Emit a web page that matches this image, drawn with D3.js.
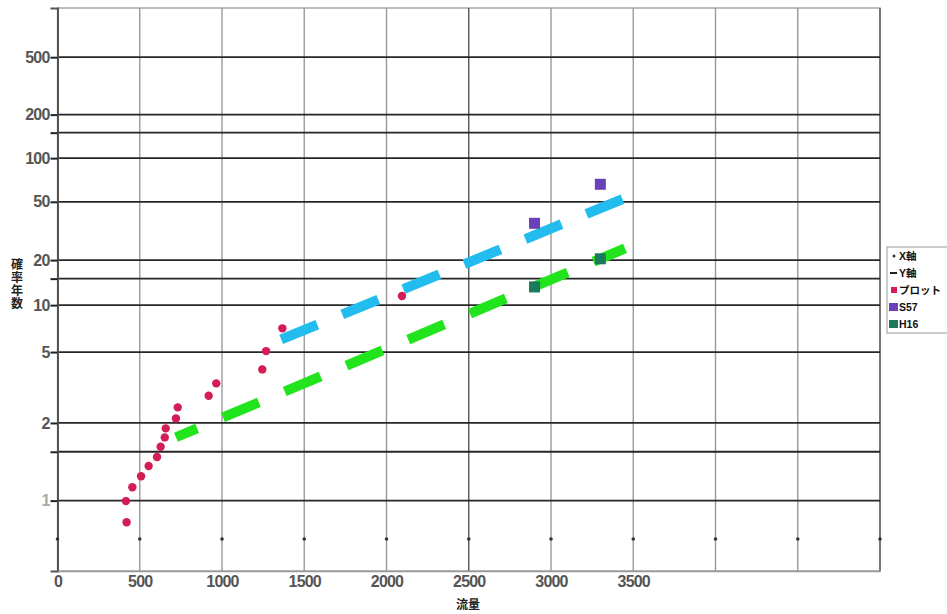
<!DOCTYPE html>
<html>
<head>
<meta charset="utf-8">
<script src="https://cdn.jsdelivr.net/npm/d3@7"></script>
<style>
  body { margin: 0; background: #fff; }
  svg { display: block; }
  text { font-family: "Liberation Sans", "Noto Sans CJK JP", sans-serif; }
</style>
</head>
<body>
<svg id="chart" width="947" height="614"></svg>
<script>
// data: flow (x) vs return period in years (y, Gumbel paper)
var plotFlow = [420, 416, 455, 508, 554, 605, 627, 652, 658, 720, 731, 919, 965, 1245, 1268, 1367, 2094];
var plotT    = [1.035, 1.098, 1.168, 1.245, 1.336, 1.434, 1.569, 1.717, 1.885, 2.105, 2.396, 2.764, 3.248, 3.92, 5.07, 7.06, 11.5];

var s57Flow = [2900, 3300];
var s57T    = [35.6, 66];
var h16Flow = [2900, 3300];
var h16T    = [13.2, 20.4];

// fitted lines, end points [flow, T]
var cyanLine  = [[1360, 6.0], [3450, 53]];
var greenLine = [[720, 1.72], [3450, 24]];

// "Y軸" series (horizontal lines) and their labels
var yLineT     = [500, 200, 150, 100, 50, 20, 15, 10, 5, 2, 1.5, 1.1];
var yLineLabel = ["500", "200", "", "100", "50", "20", "", "10", "5", "2", "", "1"];

// "X軸" series (small dots on the vertical grid)
var xDotFlow = [0, 500, 1000, 1500, 2000, 2500, 3000, 3500, 4000, 4500, 5000];
var xDotT = 1.012;

var xTicks = [0, 500, 1000, 1500, 2000, 2500, 3000, 3500];
var xGrid  = [500, 1000, 1500, 2000, 2500, 3000, 3500, 4000, 4500];

var legendItems = ["X軸", "Y軸", "プロット", "S57", "H16"];
var yTitle = "確率年数";
var xTitle = "流量";

// Gumbel reduced variate
function gumbel(T) { return -Math.log(-Math.log(1 - 1 / T)); }

var svg = d3.select("#chart");
var pL = 57.5, pR = 880, pT = 8, pB = 571;

var x = d3.scaleLinear().domain([0, 5000]).range([pL, pR]);
var yv = d3.scaleLinear().domain([-2, 7]).range([pB, pT]);
var y = T => yv(gumbel(T));

// plot frame
svg.append("rect")
  .attr("x", pL).attr("y", pT)
  .attr("width", pR - pL).attr("height", pB - pT)
  .attr("fill", "#fff").attr("stroke", "#999").attr("stroke-width", 1.3);

// vertical grid
svg.append("g").selectAll("line")
  .data(xGrid)
  .enter()
  .append("line")
  .attr("x1", d => x(d)).attr("x2", d => x(d))
  .attr("y1", pT).attr("y2", pB)
  .attr("stroke", d => d == 2500 ? "#555" : "#9a9a9a")
  .attr("stroke-width", 1.4);

svg.append("line")
  .attr("x1", pR).attr("x2", pR).attr("y1", pT).attr("y2", pB)
  .attr("stroke", "#777").attr("stroke-width", 2);

// horizontal "Y軸" lines
svg.append("g").selectAll("line")
  .data(yLineT)
  .enter()
  .append("line")
  .attr("x1", pL).attr("x2", pR)
  .attr("y1", d => y(d)).attr("y2", d => y(d))
  .attr("stroke", "#262626")
  .attr("stroke-width", 1.8);

// left axis with ticks
var yAxis = d3.axisLeft(yv)
  .tickValues(yLineT.map(gumbel))
  .tickFormat((d, i) => yLineLabel[i])
  .tickSize(7)
  .tickPadding(1);
var gy = svg.append("g")
  .attr("transform", "translate(" + pL + ",0)")
  .call(yAxis);
gy.select(".domain").attr("stroke", "#555").attr("stroke-width", 2);
gy.selectAll(".tick line").attr("stroke", "#222").attr("stroke-width", 2);
gy.selectAll(".tick text")
  .attr("font-size", 16)
  .attr("font-weight", "bold")
  .attr("letter-spacing", -0.8)
  .attr("fill", (d, i) => yLineLabel[i] == "1" ? "#aaa" : "#555");

// bottom axis
var xAxis = d3.axisBottom(x)
  .tickValues(xTicks)
  .tickSize(0)
  .tickPadding(5)
  .tickFormat(d3.format("d"));
var gx = svg.append("g")
  .attr("transform", "translate(0," + pB + ")")
  .call(xAxis);
gx.select(".domain").attr("stroke", "#999").attr("stroke-width", 1.5);
gx.selectAll(".tick text")
  .attr("font-size", 16)
  .attr("font-weight", "bold")
  .attr("letter-spacing", -0.8)
  .attr("fill", "#555");

// "X軸" dots
svg.append("g").selectAll("circle")
  .data(xDotFlow)
  .enter()
  .append("circle")
  .attr("cx", d => x(d)).attr("cy", y(xDotT))
  .attr("r", 1.8)
  .attr("fill", "#333");

// fitted dashed lines
var line = d3.line().x(d => x(d[0])).y(d => y(d[1]));
svg.append("path")
  .attr("d", line(cyanLine))
  .attr("fill", "none")
  .attr("stroke", "#22bdee")
  .attr("stroke-width", 10)
  .attr("stroke-dasharray", "39,27");
svg.append("path")
  .attr("d", line(greenLine))
  .attr("fill", "none")
  .attr("stroke", "#22e41c")
  .attr("stroke-width", 10)
  .attr("stroke-dasharray", "39,28")
  .attr("stroke-dashoffset", 16);

// plotted points
svg.append("g").selectAll("circle")
  .data(plotFlow)
  .enter()
  .append("circle")
  .attr("cx", d => x(d))
  .attr("cy", (d, i) => y(plotT[i]))
  .attr("r", 4.2)
  .attr("fill", "#d31e55");

svg.append("g").selectAll("rect")
  .data(s57Flow)
  .enter()
  .append("rect")
  .attr("x", d => x(d) - 5.5)
  .attr("y", (d, i) => y(s57T[i]) - 5.5)
  .attr("width", 11).attr("height", 11)
  .attr("fill", "#6a40bb");

svg.append("g").selectAll("rect")
  .data(h16Flow)
  .enter()
  .append("rect")
  .attr("x", d => x(d) - 5.5)
  .attr("y", (d, i) => y(h16T[i]) - 5.5)
  .attr("width", 11).attr("height", 11)
  .attr("fill", "#1b7a5c");

// axis titles
svg.append("text")
  .attr("x", 468).attr("y", 609)
  .attr("text-anchor", "middle")
  .attr("font-size", 12)
  .attr("font-weight", "bold")
  .attr("fill", "#222")
  .text(xTitle);

svg.append("g").selectAll("text")
  .data(yTitle.split(""))
  .enter()
  .append("text")
  .attr("x", 17)
  .attr("y", (d, i) => 269 + i * 13)
  .attr("text-anchor", "middle")
  .attr("font-size", 12)
  .attr("font-weight", "bold")
  .attr("fill", "#222")
  .text(d => d);

// legend
var lg = svg.append("g").attr("transform", "translate(887,247)");
lg.append("rect")
  .attr("x", 0).attr("y", 0).attr("width", 80).attr("height", 86)
  .attr("fill", "#fff").attr("stroke", "#aaa").attr("stroke-width", 1.2);
var legendColor = ["#333", "#222", "#d31e55", "#6a40bb", "#1b7a5c"];
legendItems.forEach(function(name, i) {
  var cy = 9 + i * 17;
  if (i == 0) {
    lg.append("circle").attr("cx", 7).attr("cy", cy).attr("r", 1.5).attr("fill", legendColor[i]);
  } else if (i == 1) {
    lg.append("line").attr("x1", 3).attr("x2", 10).attr("y1", cy).attr("y2", cy)
      .attr("stroke", legendColor[i]).attr("stroke-width", 2);
  } else if (i == 2) {
    lg.append("rect").attr("x", 4).attr("y", cy - 3).attr("width", 6).attr("height", 6)
      .attr("fill", legendColor[i]);
  } else {
    lg.append("rect").attr("x", 2).attr("y", cy - 4).attr("width", 9).attr("height", 8)
      .attr("fill", legendColor[i]);
  }
  lg.append("text")
    .attr("x", 12).attr("y", cy + 4)
    .attr("font-size", 10.5)
    .attr("font-weight", "bold")
    .attr("fill", "#111")
    .text(name);
});
</script>
</body>
</html>
